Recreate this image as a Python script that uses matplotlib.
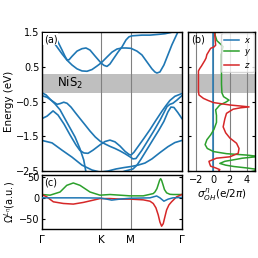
import numpy as np
import matplotlib
matplotlib.use('Agg')
import matplotlib.pyplot as plt

# high symmetry points along G-K-M-G (path length)
kpts = [0, 4/3, 2.0, 2 + 2/np.sqrt(3)]
klabels = ['Γ', 'K', 'M', 'Γ']

# conduction bands
c1_k = [0, 0.113, 0.225, 0.338, 0.451, 0.563, 0.676, 0.789, 0.901, 1.014,
        1.127, 1.239, 1.333, 1.465, 1.577, 1.690, 1.803, 1.893, 2.006, 2.141,
        2.253, 2.366, 2.479, 2.546, 2.591, 2.659, 2.749, 2.839, 2.929, 3.020,
        3.087, 3.155]
c1_E = [1.67, 1.47, 1.27, 1.07, 0.87, 0.69, 0.55, 0.44, 0.38, 0.37,
        0.42, 0.52, 0.61, 0.78, 0.92, 1.01, 1.04, 1.04, 1.03, 0.95,
        0.84, 0.64, 0.44, 0.35, 0.32, 0.35, 0.55, 0.84, 1.13, 1.38,
        1.56, 1.70]
c2_k = [0.180, 0.225, 0.338, 0.451, 0.518, 0.563, 0.608, 0.676, 0.789, 0.901,
        0.991, 1.082, 1.194, 1.330, 1.397, 1.465, 1.532, 1.622, 1.713, 1.803,
        1.893, 1.960, 2.028, 2.141, 2.253, 2.434, 2.614, 2.772, 2.884, 2.975,
        3.065, 3.155]
c2_E = [1.67, 1.56, 1.27, 0.98, 0.80, 0.70, 0.70, 0.80, 0.95, 1.02,
        1.04, 0.98, 0.81, 0.61, 0.54, 0.51, 0.58, 0.75, 0.92, 1.07,
        1.27, 1.36, 1.39, 1.40, 1.41, 1.41, 1.43, 1.45, 1.48, 1.51,
        1.57, 1.63]

# valence bands
va_k = [0, 0.090, 0.180, 0.293, 0.406, 0.518, 0.631, 0.744, 0.856, 0.940,
        0.991, 1.059, 1.194, 1.420, 1.645, 1.870, 2.051, 2.141, 2.231, 2.366,
        2.501, 2.637, 2.749, 2.839, 2.907, 2.975, 3.065, 3.155]
va_E = [-0.25, -0.31, -0.43, -0.57, -0.74, -1.00, -1.26, -1.52, -1.86, -2.18,
        -2.53, -2.75, -2.85, -2.75, -2.60, -2.50, -2.44, -2.33, -2.16, -1.88,
        -1.60, -1.32, -1.07, -0.80, -0.66, -0.67, -0.82, -0.99]
vb_k = [0, 0.113, 0.225, 0.338, 0.406, 0.489, 0.563, 0.653, 0.750, 0.856,
        0.976, 1.082, 1.201, 1.314, 1.420, 1.532, 1.645, 1.758, 1.870, 1.983,
        2.051, 2.118, 2.253, 2.389, 2.524, 2.659, 2.749, 2.817, 2.884, 2.952,
        3.042, 3.155]
vb_E = [-0.33, -0.38, -0.48, -0.58, -0.56, -0.52, -0.55, -0.66, -0.82, -0.99,
        -1.18, -1.35, -1.52, -1.645, -1.72, -1.79, -1.85, -1.92, -2.00, -2.09,
        -2.15, -2.14, -1.90, -1.62, -1.34, -1.04, -0.82, -0.65, -0.58, -0.55,
        -0.46, -0.33]
vc_k = [0, 0.113, 0.248, 0.361, 0.496, 0.631, 0.766, 0.856, 0.946, 1.037,
        1.149, 1.314, 1.420, 1.532, 1.645, 1.758, 1.870, 1.960, 2.006, 2.073,
        2.163, 2.298, 2.434, 2.569, 2.704, 2.794, 2.884, 2.997, 3.155]
vc_E = [-0.99, -0.92, -0.77, -0.89, -1.15, -1.46, -1.75, -1.91, -1.98, -1.99,
        -1.90, -1.74, -1.65, -1.61, -1.66, -1.78, -1.93, -2.02, -2.04, -1.96,
        -1.80, -1.56, -1.31, -1.04, -0.78, -0.62, -0.47, -0.35, -0.27]
vd_k = [0, 0.225, 0.451, 0.676, 0.901, 1.127, 1.307, 1.487, 1.668, 1.848,
        2.006, 2.163, 2.321, 2.479, 2.659, 2.839, 2.997, 3.155]
vd_E = [-1.62, -1.69, -1.90, -2.10, -2.33, -2.47, -2.53, -2.50, -2.44, -2.40,
        -2.37, -2.33, -2.27, -2.15, -1.97, -1.80, -1.68, -1.62]

bands = [(c1_k, c1_E), (c2_k, c2_E), (va_k, va_E), (vb_k, vb_E),
         (vc_k, vc_E), (vd_k, vd_E)]

# orbital Hall conductivity vs energy (panel b)
sx_E = [1.6, -2.6]
sx_s = [0.0, 0.0]
sy_E = [1.55, 1.40, 1.25, 1.15, 1.08, 1.00, 0.85, 0.60, 0.30, 0.00,
        -0.25, -0.36, -0.46, -0.52, -0.60, -0.74, -0.90, -1.10, -1.30, -1.46,
        -1.60, -1.74, -1.85, -1.94, -2.00, -2.04, -2.08, -2.13, -2.17, -2.22,
        -2.28, -2.33, -2.37, -2.41, -2.46, -2.52]
sy_s = [0.2, 0.25, 0.45, 0.9, 1.2, 1.1, 1.0, 1.0, 1.0, 1.0,
        1.05, 1.25, 1.9, 1.5, 0.8, 0.3, 0.4, 0.4, 0.1, -0.3,
        -0.75, -0.96, -0.7, 0.05, 1.6, 4.0, 5.5, 3.5, 2.6, 1.4,
        0.8, 1.5, 2.5, 4.0, 5.5, 4.5]
sz_E = [1.55, 1.40, 1.25, 1.12, 1.07, 1.03, 0.95, 0.85, 0.75, 0.68,
        0.60, 0.52, 0.45, 0.38, 0.10, -0.20, -0.31, -0.41, -0.47, -0.53,
        -0.60, -0.63, -0.655, -0.68, -0.72, -0.84, -1.00, -1.23, -1.40, -1.55,
        -1.70, -1.85, -1.99, -2.05, -2.09, -2.13, -2.22, -2.30, -2.36, -2.41,
        -2.46, -2.52]
sz_s = [0.2, 0.2, 0.25, 0.3, 0.1, -0.3, -0.5, -0.75, -0.85, -1.0,
        -1.2, -1.4, -1.6, -1.76, -1.76, -1.76, -1.7, -1.16, -0.6, 0.04,
        2.0, 3.3, 4.3, 3.3, 2.4, 1.6, 1.4, 1.2, 1.5, 2.0,
        2.8, 3.1, 3.0, 2.4, 2.0, 0.4, -0.5, -0.4, -0.3, 0.3,
        0.8, 0.6]

# Berry curvature along path (panel c)
ox_k = [0, 0.406, 0.856, 1.307, 1.458, 1.571, 1.758, 1.983, 2.434, 2.585,
        2.659, 2.749, 2.846, 2.952, 3.155]
ox_v = [0, 0, 0, -0.5, -3, -5.5, -3, -1, 0, 4.5, 0, -8, -3, 0, 1]
oy_k = [0, 0.180, 0.406, 0.557, 0.705, 0.856, 1.082, 1.307, 1.532, 1.758,
        1.983, 2.283, 2.508, 2.546, 2.591, 2.625, 2.652, 2.675, 2.697, 2.727,
        2.761, 2.810, 2.884, 2.959, 3.155]
oy_v = [8, 6.4, 14, 30, 35.7, 30, 14, 6.4, 8, 6.4,
        4.8, 4.8, 10.2, 14, 22, 33, 42, 46, 42, 32,
        20, 12, 8.5, 8, 8]
oz_k = [0, 0.106, 0.255, 0.480, 0.705, 0.931, 1.156, 1.307, 1.532, 1.758,
        1.983, 2.283, 2.434, 2.508, 2.569, 2.621, 2.659, 2.697, 2.734, 2.761,
        2.810, 2.862, 2.922, 3.035, 3.155]
oz_v = [8, 2.4, -9.5, -13.5, -15, -11, -5.5, -1.7, -1.7, -3,
        -3, -4.8, -8, -13.5, -24, -41, -58, -68, -62, -50,
        -29, -17, -9.5, 2.4, 8]

gap = (-0.25, 0.29)
blue, green, red = '#1f77b4', '#2ca02c', '#d62728'

plt.rcParams['font.size'] = 7
fig = plt.figure(figsize=(2.58, 2.58), dpi=100)
ax_a = fig.add_axes([0.163, 0.337, 0.542, 0.539])
ax_b = fig.add_axes([0.729, 0.337, 0.259, 0.539])
ax_c = fig.add_axes([0.163, 0.112, 0.542, 0.21])

for ax in (ax_a, ax_b, ax_c):
    for s in ax.spines.values():
        s.set_linewidth(1.0)
    ax.tick_params(axis='y', direction='in', length=2.5, left=True, right=True,
                   labelsize=7, pad=2)

# (a) bands
ax_a.axhspan(*gap, color='gray', alpha=0.5, lw=0)
for k, e in bands:
    ax_a.plot(k, e, color=blue, lw=1.2)
ax_a.set_xlim(kpts[0], kpts[-1])
ax_a.set_ylim(-2.5, 1.5)
ax_a.set_yticks([1.5, 0.5, -0.5, -1.5, -2.5])
ax_a.set_xticks(kpts)
ax_a.set_xticklabels([])
ax_a.tick_params(axis='x', length=0)
ax_a.grid(axis='x', color='gray', lw=0.8)
ax_a.set_ylabel('Energy (eV)', fontsize=7.5, labelpad=1)
ax_a.text(0.63, 0.02, 'NiS$_2$', fontsize=8.5, ha='center', va='center')
ax_a.text(0.015, 0.985, '(a)', transform=ax_a.transAxes, ha='left', va='top',
          fontsize=7, bbox=dict(facecolor='white', edgecolor='none', pad=0.5))

# (b) orbital Hall conductivity
ax_b.axhspan(*gap, color='gray', alpha=0.5, lw=0)
ax_b.plot(sx_s, sx_E, color=blue, lw=1.1, label='$x$')
ax_b.plot(sy_s, sy_E, color=green, lw=1.1, label='$y$')
ax_b.plot(sz_s, sz_E, color=red, lw=1.1, label='$z$')
ax_b.set_xlim(-3, 5)
ax_b.set_ylim(-2.5, 1.5)
ax_b.set_yticks([1.5, 0.5, -0.5, -1.5, -2.5])
ax_b.set_yticklabels([])
ax_b.set_xticks([-2, 0, 2, 4])
ax_b.tick_params(axis='x', length=0, labelsize=7, pad=3)
ax_b.grid(axis='x', color='gray', lw=0.8)
ax_b.set_xlabel(r'$\sigma_{OH}^{\eta}$(e/2$\pi$)', fontsize=7.5, labelpad=1)
ax_b.text(0.05, 0.985, '(b)', transform=ax_b.transAxes, ha='left', va='top',
          fontsize=7)
ax_b.legend(loc='upper right', fontsize=6, handlelength=1.8, borderpad=0.3,
            labelspacing=0.3, handletextpad=0.6, borderaxespad=0.15)

# (c) Berry curvature
ax_c.plot(ox_k, ox_v, color=blue, lw=1.1, zorder=3)
ax_c.plot(oy_k, oy_v, color=green, lw=1.1)
ax_c.plot(oz_k, oz_v, color=red, lw=1.1)
ax_c.set_xlim(kpts[0], kpts[-1])
ax_c.set_ylim(-75, 55)
ax_c.set_yticks([50, 0, -50])
ax_c.set_xticks(kpts)
ax_c.set_xticklabels(klabels, fontsize=7.5)
ax_c.tick_params(axis='x', length=0, pad=4)
ax_c.grid(axis='x', color='gray', lw=0.8)
ax_c.set_ylabel(r'$\Omega^{L_\eta}$(a.u.)', fontsize=7, labelpad=1)
ax_c.text(0.015, 0.95, '(c)', transform=ax_c.transAxes, ha='left', va='top',
          fontsize=7)

fig.savefig('out.png', dpi=100)
